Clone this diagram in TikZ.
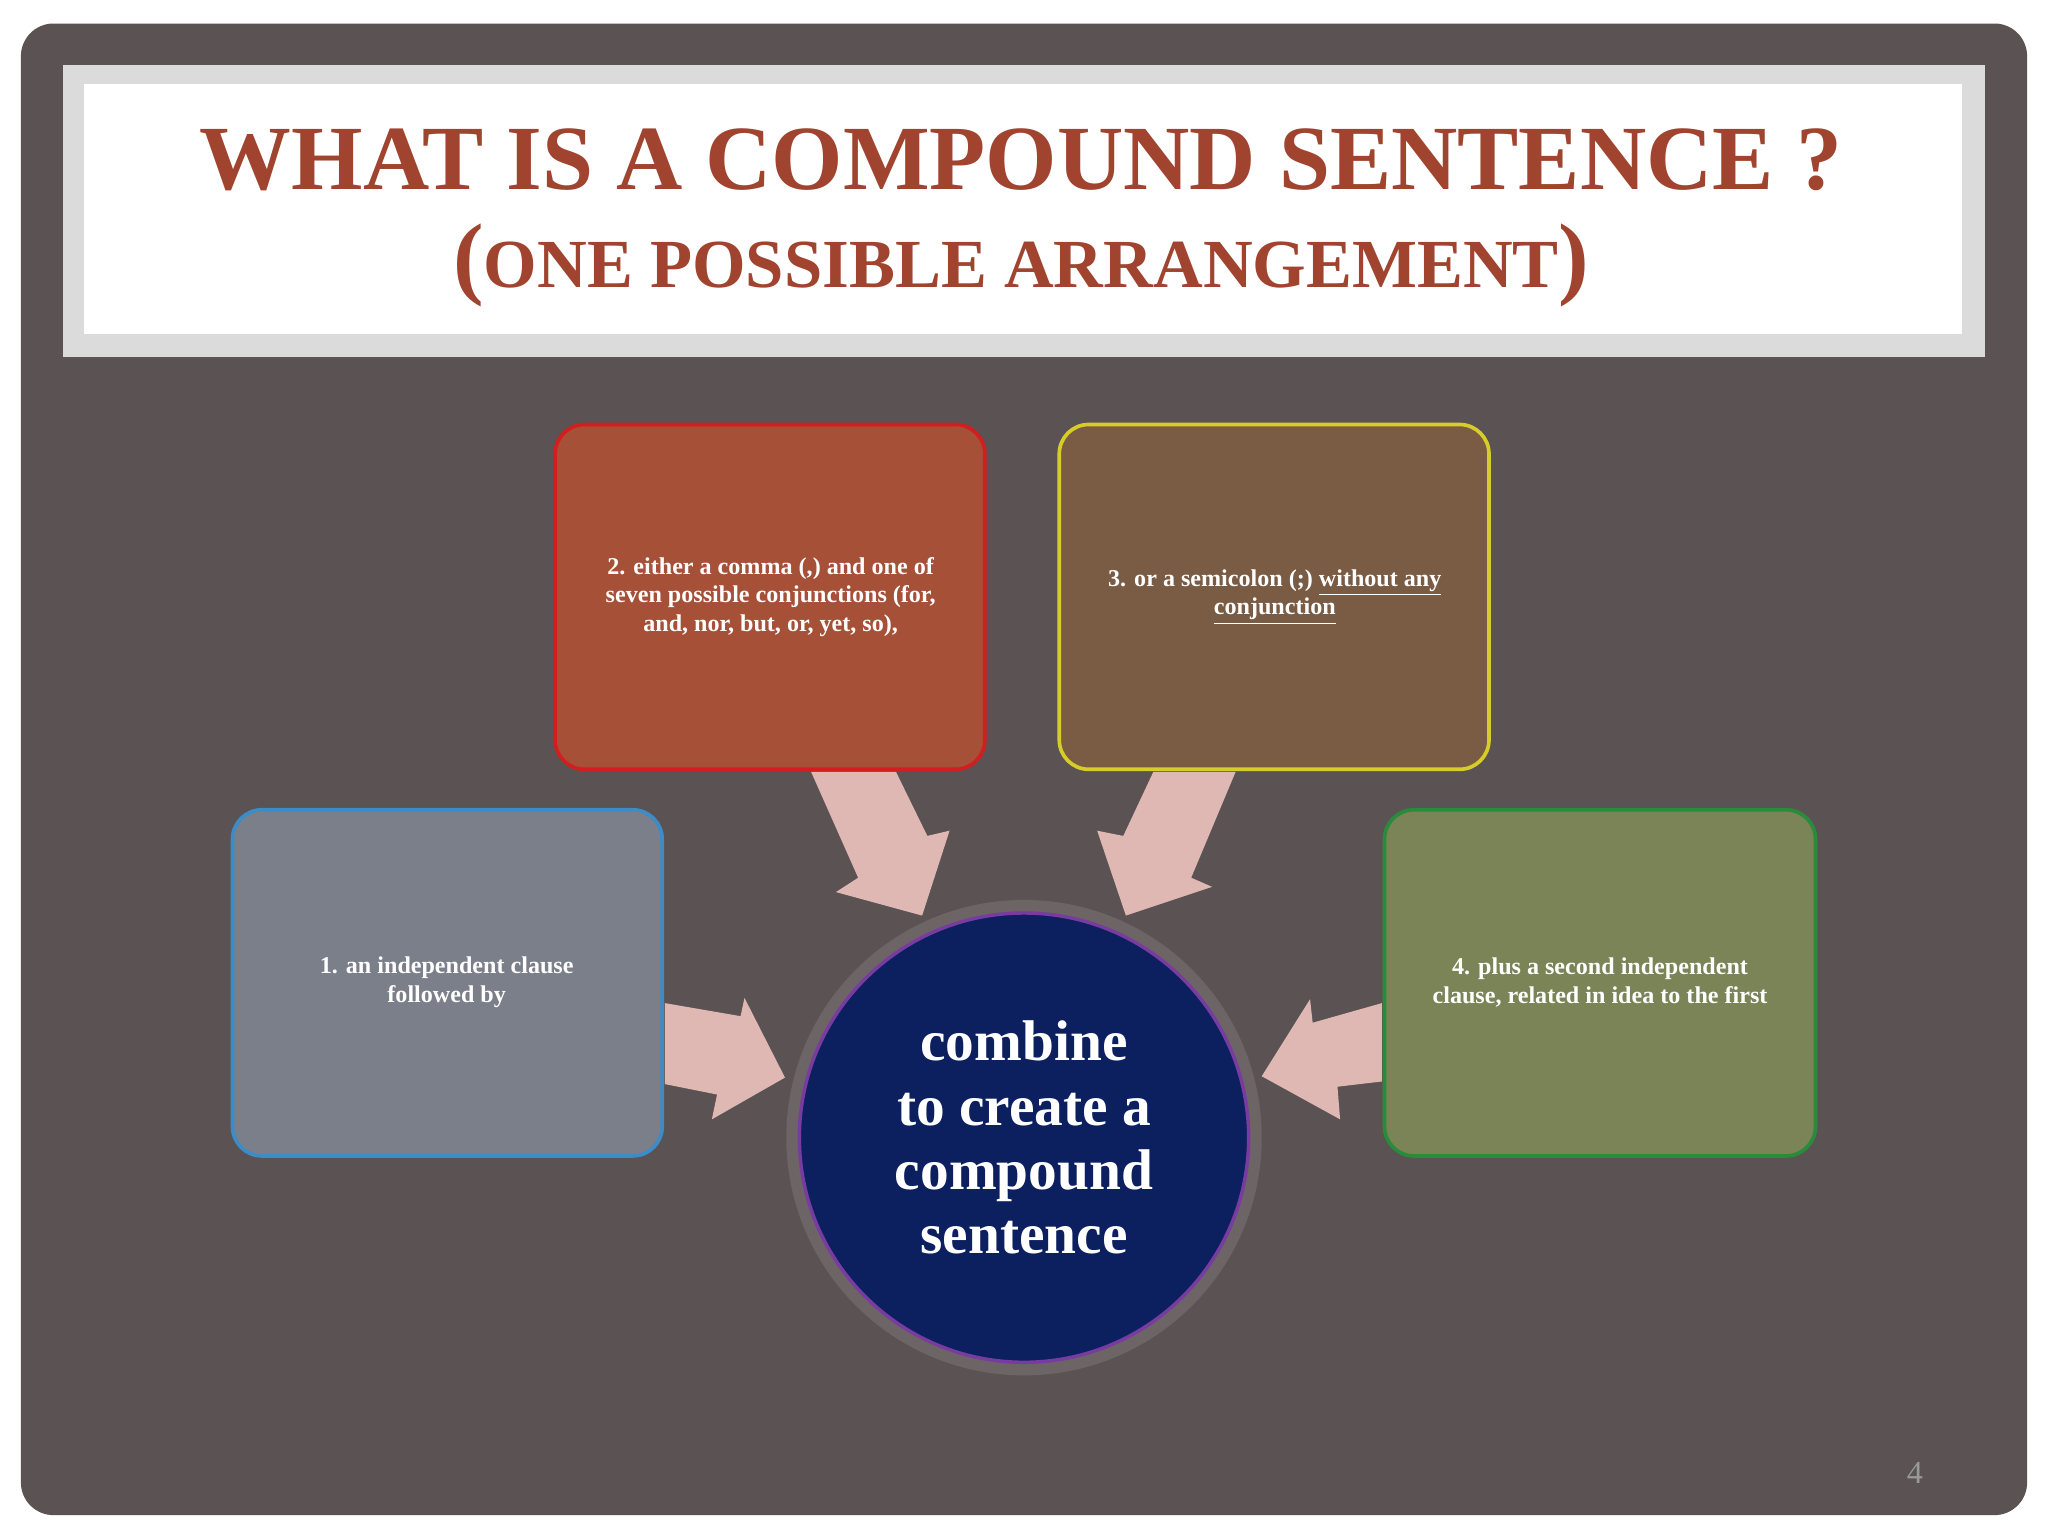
\documentclass[tikz,border=0pt]{standalone}
\usepackage{fontspec}
\setmainfont{Liberation Serif}
\begin{document}
\begin{tikzpicture}[x=0.02cm,y=-0.02cm,
  card/.style={rounded corners=0.45cm,line width=1.6pt,inner sep=0pt},
  ctext/.style={text=white,font=\bfseries\fontsize{10.5}{12.5}\selectfont,align=center},
  blk/.style={fill=arrowc,draw=none}]
\definecolor{bgc}{HTML}{5B5253}
\definecolor{titc}{HTML}{A0442F}
\definecolor{arrowc}{HTML}{E0B8B3}
\useasboundingbox (0,0) rectangle (1568,1176);
\fill[white] (0,0) rectangle (1568,1176);
\fill[bgc,rounded corners=0.5cm] (16,18) rectangle (1552,1160);
\fill[black!14] (48,50) rectangle (1520,273);
\fill[white] (64,64) rectangle (1502,256);
\node[text=titc,font=\bfseries\fontsize{40}{44}\selectfont] (t1) at (782,122) {WHAT IS A COMPOUND SENTENCE ?};
\node[text=titc,font=\bfseries\fontsize{30}{34}\selectfont] (t2) at (782,203) {{\fontsize{40}{44}\selectfont(}ONE POSSIBLE ARRANGEMENT{\fontsize{40}{44}\selectfont)}};
% cards
\draw[card,fill={rgb,255:red,166;green,80;blue,56},draw={rgb,255:red,210;green,30;blue,30}] (425,325) rectangle (754,589);
\draw[card,fill={rgb,255:red,122;green,92;blue,68},draw={rgb,255:red,215;green,205;blue,40}] (811,325) rectangle (1140,589);
\draw[card,fill={rgb,255:red,123;green,127;blue,138},draw={rgb,255:red,60;green,140;blue,200}] (178,620) rectangle (507,885);
\draw[card,fill={rgb,255:red,122;green,132;blue,86},draw={rgb,255:red,40;green,140;blue,60}] (1060,620) rectangle (1390,885);
\node[ctext] (b2) at (590,457) {2. either a comma (,) and one of\\seven possible conjunctions (for,\\and, nor, but, or, yet, so),};
\node[ctext] (b3) at (976,457) {3. or a semicolon (;) \underline{without any}\\\underline{conjunction}};
\node[ctext] (b1) at (342,752) {1. an independent clause\\followed by};
\node[ctext] (b4) at (1225,752) {4. plus a second independent\\clause, related in idea to the first};
% arrows
\fill[blk] (509,768) -- (567,778) -- (570,764) -- (601,825) -- (545,857) -- (549,838) -- (509,830) -- cycle;
\fill[blk] (621,591) -- (686,591) -- (710,640) -- (727,636) -- (706,701) -- (640,683) -- (657,672) -- cycle;
\fill[blk] (946,591) -- (883,591) -- (860,640) -- (840,636) -- (862,701) -- (928,679) -- (912,672) -- cycle;
\fill[blk] (1058,768) -- (1058,828) -- (1024,832) -- (1026,857) -- (966,824) -- (1003,765) -- (1005,783) -- cycle;
% circle
\fill[bgc!70!white,opacity=0.35] (784,871) circle (182);
\draw[fill={rgb,255:red,12;green,32;blue,96},draw={rgb,255:red,120;green,60;blue,160},line width=1.5pt] (784,871) circle (172);
\node[text=white,font=\bfseries\fontsize{25}{28}\selectfont,align=center] (c) at (784,871) {combine\\to create a\\compound\\sentence};
\node[text=black!40,font=\fontsize{14}{16}\selectfont] (pg) at (1466,1128) {4};
\end{tikzpicture}
\end{document}
